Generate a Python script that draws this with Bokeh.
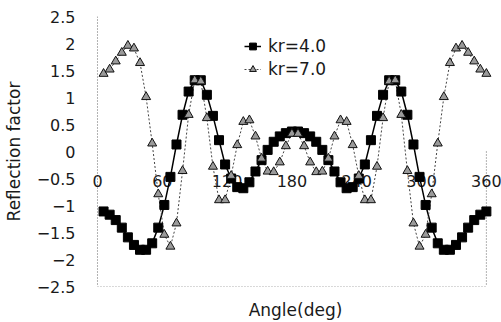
from bokeh.plotting import figure
from bokeh.models import FixedTicker, Legend, LegendItem, ColumnDataSource
from bokeh.core.properties import value
from bokeh.embed import file_html
from bokeh.resources import INLINE

# ---- data ----
angles = [5.625, 11.25, 16.875, 22.5, 28.125, 33.75, 39.375, 45.0,
          50.625, 56.25, 61.875, 67.5, 73.125, 78.75, 84.375, 90.0,
          95.625, 101.25, 106.875, 112.5, 118.125, 123.75, 129.375, 135.0,
          140.625, 146.25, 151.875, 157.5, 163.125, 168.75, 174.375, 180.0,
          185.625, 191.25, 196.875, 202.5, 208.125, 213.75, 219.375, 225.0,
          230.625, 236.25, 241.875, 247.5, 253.125, 258.75, 264.375, 270.0,
          275.625, 281.25, 286.875, 292.5, 298.125, 303.75, 309.375, 315.0,
          320.625, 326.25, 331.875, 337.5, 343.125, 348.75, 354.375, 360.0]

kr4 = [-1.11, -1.17, -1.27, -1.41, -1.59, -1.73, -1.82, -1.82,
       -1.70, -1.41, -0.99, -0.47, 0.13, 0.68, 1.11, 1.32,
       1.32, 1.05, 0.66, 0.21, -0.24, -0.50, -0.66, -0.68,
       -0.57, -0.37, -0.16, 0.03, 0.18, 0.28, 0.34, 0.37,
       0.37, 0.34, 0.28, 0.18, 0.03, -0.16, -0.37, -0.57,
       -0.68, -0.66, -0.50, -0.24, 0.21, 0.66, 1.05, 1.32,
       1.32, 1.11, 0.68, 0.13, -0.47, -0.99, -1.41, -1.70,
       -1.82, -1.82, -1.73, -1.59, -1.41, -1.27, -1.17, -1.11]

kr7 = [1.44, 1.52, 1.67, 1.83, 1.96, 1.91, 1.64, 1.01,
       0.15, -0.79, -1.54, -1.76, -1.33, -0.36, 0.68, 1.32,
       1.30, 0.62, -0.28, -0.90, -0.90, -0.45, 0.12, 0.55,
       0.58, 0.28, -0.13, -0.37, -0.38, -0.20, 0.10, 0.33,
       0.33, 0.10, -0.20, -0.38, -0.37, -0.13, 0.28, 0.58,
       0.55, 0.12, -0.45, -0.90, -0.90, -0.28, 0.62, 1.30,
       1.32, 0.68, -0.36, -1.33, -1.76, -1.54, -0.79, 0.15,
       1.01, 1.64, 1.91, 1.96, 1.83, 1.67, 1.52, 1.44]

series_labels = ["kr=4.0", "kr=7.0"]

x_ticks = [0, 60, 120, 180, 240, 300, 360]
x_tick_labels = ["0", "60", "120", "180", "240", "300", "360"]
y_ticks = [-2.5, -2, -1.5, -1, -0.5, 0, 0.5, 1, 1.5, 2, 2.5]
y_tick_labels = ["\u22122.5", "\u22122", "\u22121.5", "\u22121", "\u22120.5", "0",
                 "0.5", "1", "1.5", "2", "2.5"]
x_min, x_max = 0, 360          # plot area limits (dotted border)
y_min, y_max = -2.5, 2.5
x_view = (-7.4, 374)           # a little room so end tick labels are not clipped
x_axis_level = 0

FONT = "DejaVu Sans"
TXT = "#1a1a1a"
BORDER = "#666666"

p = figure(width=501, height=322, x_range=x_view, y_range=(y_min, y_max),
           output_backend="svg", toolbar_location=None,
           min_border_left=86, min_border_right=0, min_border_top=16, min_border_bottom=34)
p.xgrid.visible = False
p.ygrid.visible = False
p.outline_line_color = None
p.background_fill_color = "white"
p.border_fill_color = "white"

# y axis (labels + title)
ya = p.yaxis[0]
ya.ticker = FixedTicker(ticks=y_ticks)
ya.major_label_overrides = {t: l for t, l in zip(y_ticks, y_tick_labels)}
ya.major_tick_line_color = None
ya.minor_tick_line_color = None
ya.major_label_standoff = 8
ya.major_label_text_font = FONT
ya.major_label_text_font_size = "16px"
ya.major_label_text_color = TXT
ya.axis_line_color = None
ya.axis_label = "Reflection factor"
ya.axis_label_text_font = FONT
ya.axis_label_text_font_size = "17px"
ya.axis_label_text_font_style = "normal"
ya.axis_label_text_color = TXT
ya.axis_label_standoff = 10

# x axis at the bottom (title only)
xa = p.xaxis[0]
xa.ticker = FixedTicker(ticks=[])
xa.major_tick_line_color = None
xa.minor_tick_line_color = None
xa.major_label_standoff = 0
xa.axis_line_color = None
xa.axis_label = "Angle(deg)"
xa.axis_label_text_font = FONT
xa.axis_label_text_font_size = "17px"
xa.axis_label_text_font_style = "normal"
xa.axis_label_text_color = TXT
xa.axis_label_standoff = 13

# dotted plot-area border: left, bottom, right (lower part)
p.segment(x0=[x_min, x_min, x_max], y0=[y_max, y_min, x_axis_level],
          x1=[x_min, x_max, x_max], y1=[y_min, y_min, y_min],
          line_color=BORDER, line_dash="1 2", line_width=1)

# x tick labels sitting below the y = 0 axis
tick_src = ColumnDataSource(dict(x=x_ticks, y=[x_axis_level] * len(x_ticks), t=x_tick_labels))
p.text(x="x", y="y", text="t", source=tick_src, text_align="center", text_baseline="middle",
       y_offset=29, text_font=value(FONT), text_font_size="16px", text_color=TXT)

src = ColumnDataSource(dict(a=angles, k4=kr4, k7=kr7))

l4 = p.line("a", "k4", source=src, line_color="black", line_width=1.5)
l7 = p.line("a", "k7", source=src, line_color="#444444", line_width=1, line_dash="2 2")
s4 = p.scatter("a", "k4", source=src, marker="square", size=9,
               fill_color="black", line_color="black")
s7 = p.scatter("a", "k7", source=src, marker="triangle", size=9,
               fill_color="#9a9a9a", line_color="#111111", line_width=1)

legend = Legend(items=[LegendItem(label=series_labels[0], renderers=[l4, s4]),
                       LegendItem(label=series_labels[1], renderers=[l7, s7])],
                location=(155, 207), border_line_color=None, background_fill_alpha=0,
                padding=0, margin=0, spacing=3, glyph_width=17, glyph_height=20,
                label_height=20, label_standoff=7, label_text_font=FONT,
                label_text_font_size="17px", label_text_color=TXT)
p.add_layout(legend)

open("out.html", "w").write(file_html(p, INLINE))
